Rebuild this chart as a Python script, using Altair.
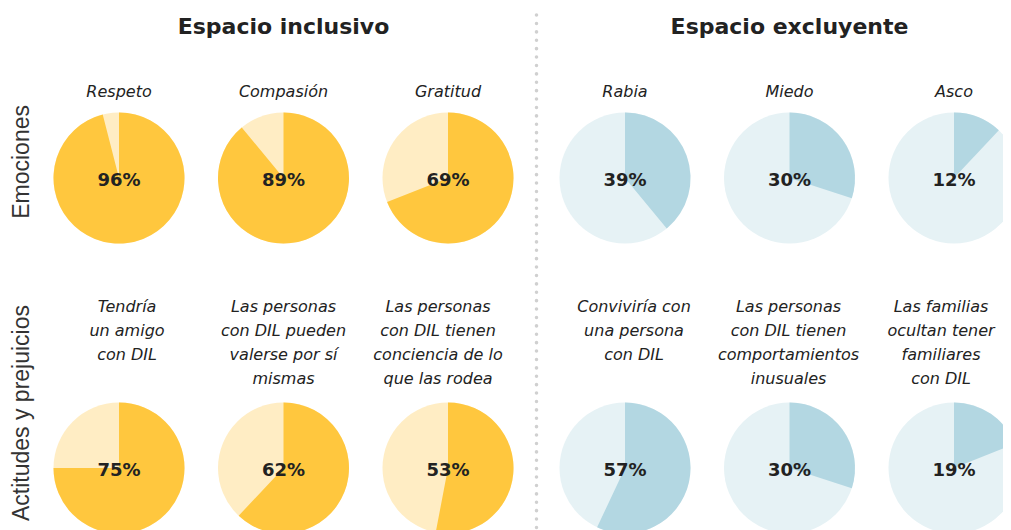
import math
import altair as alt
import pandas as pd

# ---- data ----
groups = ["inclusivo", "inclusivo", "inclusivo", "excluyente", "excluyente", "excluyente"]
row1_labels = ["Respeto", "Compasión", "Gratitud", "Rabia", "Miedo", "Asco"]
row1_values = [96, 89, 69, 39, 30, 12]
row2_labels = [
    "Tendría\nun amigo\ncon DIL",
    "Las personas\ncon DIL pueden\nvalerse por sí\nmismas",
    "Las personas\ncon DIL tienen\nconciencia de lo\nque las rodea",
    "Conviviría con\nuna persona\ncon DIL",
    "Las personas\ncon DIL tienen\ncomportamientos\ninusuales",
    "Las familias\nocultan tener\nfamiliares\ncon DIL",
]
row2_values = [75, 62, 53, 57, 30, 19]
group_titles = ["Espacio inclusivo", "Espacio excluyente"]
row_titles = ["Emociones", "Actitudes y prejuicios"]

# ---- layout constants ----
W, H = 995, 522
UNIT = 164.5               # px between pie centres
GROUP_GAP = 0.076          # extra slot spacing between the two groups
X_DOMAIN = [-111 / UNIT, (W - 111) / UNIT]
Y_DOMAIN = [-170 / 290, (H - 170) / 290]
R = 65.5
ROW2_LABEL_SHIFT = [8, 0, -10, 9, -1, -13]   # px, horizontal nudge of the wrapped labels

C_INC, C_INC_L = "#FFC73E", "#FFEDC4"
C_EXC, C_EXC_L = "#B3D7E2", "#E6F2F5"
TXT = "#222222"
MAIN_FONT = "DejaVu Sans"
ROW_FONT = "Liberation Sans"

rows = []
for r, (labels, values) in enumerate([(row1_labels, row1_values), (row2_labels, row2_values)]):
    for c, (lab, val) in enumerate(zip(labels, values)):
        g = groups[c]
        slot = c + (GROUP_GAP if g == "excluyente" else 0.0)
        shift = ROW2_LABEL_SHIFT[c] / UNIT if r == 1 else 0.0
        rows.append({
            "row": r, "col": c, "group": g, "label": lab, "value": val,
            "slot": slot, "lslot": slot + shift,
            "pct": f"{val}%", "zero": 0, "full": 100,
            "fg": "inc_fg" if g == "inclusivo" else "exc_fg",
            "bg": "inc_bg" if g == "inclusivo" else "exc_bg",
        })
df = pd.DataFrame(rows)

xscale = alt.Scale(domain=X_DOMAIN, nice=False, zero=False)
xenc = alt.X("slot:Q", scale=xscale, axis=None)
xlab = alt.X("lslot:Q", scale=xscale, axis=None)
yenc = alt.Y("row:Q", scale=alt.Scale(domain=Y_DOMAIN, nice=False, zero=False, reverse=True), axis=None)
theta_scale = alt.Scale(domain=[0, 100], range=[0, 2 * math.pi])
color_scale = alt.Scale(domain=["inc_fg", "inc_bg", "exc_fg", "exc_bg"],
                        range=[C_INC, C_INC_L, C_EXC, C_EXC_L])

base = alt.Chart(df)

bg = base.mark_arc(radius=R).encode(
    x=xenc, y=yenc,
    theta=alt.Theta("zero:Q", scale=theta_scale, stack=None),
    theta2="full:Q",
    color=alt.Color("bg:N", scale=color_scale, legend=None),
)
fg = base.mark_arc(radius=R).encode(
    x=xenc, y=yenc,
    theta=alt.Theta("zero:Q", scale=theta_scale, stack=None),
    theta2="value:Q",
    color=alt.Color("fg:N", scale=color_scale, legend=None),
)
pct = base.mark_text(font=MAIN_FONT, fontWeight="bold", fontSize=18, color=TXT, dy=7.5,
                     baseline="alphabetic").encode(x=xenc, y=yenc, text="pct:N")

lab1 = base.transform_filter("datum.row == 0").mark_text(
    font=MAIN_FONT, fontStyle="italic", fontSize=16, color=TXT, dy=-81, baseline="alphabetic"
).encode(x=xlab, y=yenc, text="label:N")

lab2 = base.transform_filter("datum.row == 1").mark_text(
    font=MAIN_FONT, fontStyle="italic", fontSize=16, color=TXT, dy=-156, baseline="alphabetic",
    lineBreak="\n", lineHeight=24
).encode(x=xlab, y=yenc, text="label:N")

# annotations
titles_df = pd.DataFrame({"t": group_titles, "slot": [1, 4 + GROUP_GAP]})
titles = alt.Chart(titles_df).mark_text(
    font=MAIN_FONT, fontWeight="bold", fontSize=22, color=TXT, baseline="alphabetic"
).encode(x=xenc, y=alt.value(25.5), text="t:N")

row_df = pd.DataFrame({"t": row_titles, "ytop": [97, 297]})
row_lab = alt.Chart(row_df).mark_text(
    font=ROW_FONT, fontSize=23, color="#333333", angle=270, align="right", baseline="alphabetic"
).encode(x=alt.value(21), y=alt.Y("ytop:Q", scale=None), text="t:N")

sep = alt.Chart(pd.DataFrame({"slot": [2.5 + GROUP_GAP / 2]})).mark_rule(
    color="#D0D0D0", strokeWidth=3.5, strokeDash=[0.1, 8.3], strokeCap="round"
).encode(x=xenc, y=alt.value(7), y2=alt.value(H + 10))

chart = alt.layer(bg, fg, pct, lab1, lab2, titles, row_lab, sep).properties(
    width=W, height=H, padding=0, autosize=alt.AutoSizeParams(type="none")
).configure(background="white").configure_view(strokeWidth=0)

chart.save("out.html", embed_options={"renderer": "svg", "actions": False})
